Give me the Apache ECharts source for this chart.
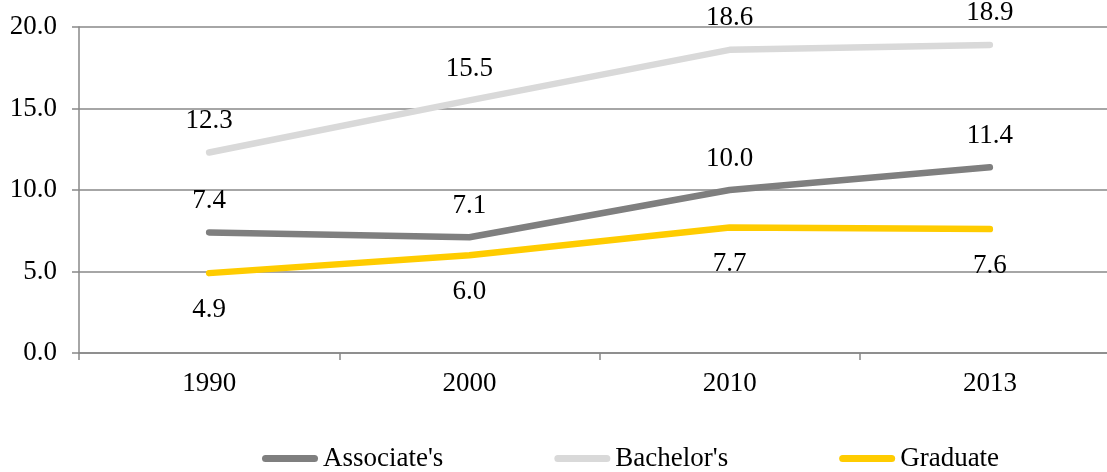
<!DOCTYPE html>
<html>
<head>
<meta charset="utf-8">
<script src="https://cdn.jsdelivr.net/npm/echarts@6/dist/echarts.min.js"></script>
<style>
html,body{margin:0;padding:0;background:#fff;overflow:hidden;}
#chart{width:1120px;height:472px;}
</style>
</head>
<body>
<div id="chart"></div>
<script>
const categories = ['1990', '2000', '2010', '2013'];
const associates = [7.4, 7.1, 10.0, 11.4];
const bachelors = [12.3, 15.5, 18.6, 18.9];
const graduate = [4.9, 6.0, 7.7, 7.6];
const yTicks = [0, 5, 20];

const FONT = '"Liberation Serif", "Times New Roman", serif';
const axisGray = '#888888';
const capsule = 'path://M3.5,0 H52.5 A3.5,3.5 0 0 1 52.5,7 H3.5 A3.5,3.5 0 0 1 3.5,0 Z';

function mkSeries(name, data, color, pos, dist) {
  return {
    name: name,
    type: 'line',
    data: data,
    showSymbol: true,
    symbol: 'circle',
    symbolSize: 0.1,
    lineStyle: { color: color, width: 6.5, cap: 'round', join: 'round' },
    itemStyle: { color: color },
    label: {
      show: true,
      position: pos,
      distance: dist,
      color: '#000',
      fontFamily: FONT,
      fontSize: 27,
      formatter: p => Number(p.value).toFixed(1)
    },
    labelLayout: { hideOverlap: false },
    emphasis: { disabled: true },
    animation: false
  };
}

const chart = echarts.init(document.getElementById('chart'), null, { renderer: 'canvas' });
chart.setOption({
  backgroundColor: '#fff',
  animation: false,
  grid: { left: 79, right: 0, top: 27, bottom: 119, containLabel: false },
  legend: {
    left: 257,
    top: 440,
    icon: capsule,
    itemWidth: 56,
    itemHeight: 7,
    itemGap: 111,
    textStyle: { fontFamily: FONT, fontSize: 27, color: '#000' },
    data: ["Associate's", "Bachelor's", 'Graduate']
  },
  xAxis: {
    type: 'category',
    data: categories,
    boundaryGap: true,
    axisLine: { show: true, lineStyle: { color: axisGray, width: 1.5 } },
    axisTick: { show: true, length: 7, alignWithLabel: false, lineStyle: { color: axisGray, width: 1.5 } },
    axisLabel: { fontFamily: FONT, fontSize: 27, color: '#000', margin: 17 },
    splitLine: { show: false }
  },
  yAxis: {
    type: 'value',
    min: yTicks[0],
    max: yTicks[2],
    interval: yTicks[1],
    axisLine: { show: true, lineStyle: { color: axisGray, width: 1.5 } },
    axisTick: { show: true, length: 7, inside: false, lineStyle: { color: axisGray, width: 1.5 } },
    axisLabel: { fontFamily: FONT, fontSize: 27, color: '#000', margin: 22, formatter: v => v.toFixed(1) },
    splitLine: { show: true, lineStyle: { color: axisGray, width: 1.5 } }
  },
  series: [
    mkSeries("Associate's", associates, '#7f7f7f', 'top', 18),
    mkSeries("Bachelor's", bachelors, '#d9d9d9', 'top', 18),
    mkSeries('Graduate', graduate, '#ffcc00', 'bottom', 23)
  ]
});
</script>
</body>
</html>
